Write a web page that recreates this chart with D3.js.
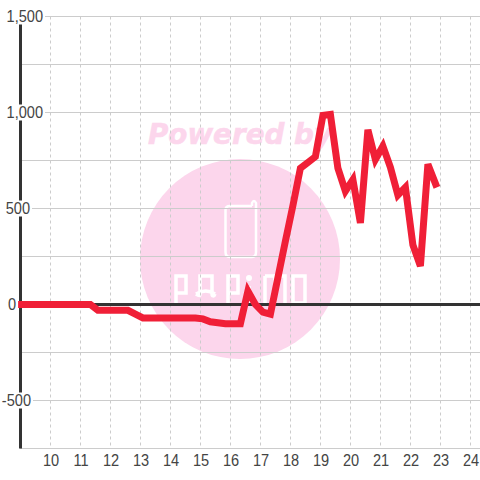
<!DOCTYPE html>
<html><head><meta charset="utf-8">
<script src="https://cdn.jsdelivr.net/npm/d3@7"></script>
<style>html,body{margin:0;padding:0;background:#fff}svg{display:block}text{font-family:"Liberation Sans",sans-serif}</style>
</head><body><svg id="c" width="480" height="480"></svg>
<script>
const hours=[8.92,9.17,9.42,9.67,9.92,10.17,10.42,10.67,10.92,11.17,11.33,11.58,11.83,12.08,12.33,12.58,12.83,13.08,13.33,13.58,13.83,14.08,14.33,14.58,14.83,15.08,15.33,15.58,15.83,16.08,16.33,16.58,16.83,17.08,17.33,17.58,17.83,18.08,18.33,18.58,18.83,19.08,19.33,19.58,19.83,20.08,20.33,20.58,20.83,21.08,21.33,21.58,21.83,22.08,22.33,22.58,22.88];
const profit=[0,0,0,0,0,0,0,0,0,0,0,-30,-30,-30,-30,-30,-50,-70,-70,-70,-70,-70,-70,-70,-70,-75,-90,-95,-100,-100,-100,70,0,-40,-50,140,330,515,710,740,770,985,990,710,590,650,425,910,755,825,715,570,610,310,200,730,610];
const xTicks=[10,11,12,13,14,15,16,17,18,19,20,21,22,23,24];
const yMajor=[1500,1000,500,0,-500];
const yMinor=[1250,750,250,-250,-750];
const svg=d3.select("#c");
const x=d3.scaleLinear().domain([9,24]).range([20.5,470.5]);
const y=d3.scaleLinear().domain([1500,-750]).range([16.5,448.5]);
const fmt=d3.format(",");
const pink="#fcd6ec";
// watermark
const wm=svg.append("g");
wm.append("text").attr("x",240).attr("y",144).attr("text-anchor","middle").attr("fill",pink).attr("stroke",pink).attr("stroke-width",0.6)
 .attr("font-size",29).attr("font-weight","bold").attr("font-style","italic").attr("textLength",184).attr("lengthAdjust","spacingAndGlyphs").style("font-family","'DejaVu Sans'").text("Powered by");
wm.append("circle").attr("cx",240).attr("cy",259).attr("r",100).attr("fill",pink);
const phone=d3.path();phone.moveTo(252,206);phone.lineTo(230,206);phone.quadraticCurveTo(225.5,206,225.5,210);phone.lineTo(225.5,252);phone.quadraticCurveTo(225.5,257,230,257);phone.lineTo(252,257);phone.quadraticCurveTo(256,257,256,252);phone.lineTo(256,203);phone.quadraticCurveTo(254,199,252,203);phone.lineTo(252,206);
wm.append("path").attr("d",phone.toString()).attr("fill","none").attr("stroke","#fff").attr("stroke-width",2.5);
const logo=["M176 303V276H186V293H176","M196 294C199 296 200 296 200 294V276H212V294C212 296 214 297 215 294M196 294Q206 288 215 294","M228 303V276H238V293H228","M249 286V303","M265 276V303M265 276H275V303M275 276H285V303","M293 276H305V303H293Z"];
wm.append("g").selectAll("path").data(logo).join("path").attr("d",d=>d).attr("fill","none").attr("stroke","#fff").attr("stroke-width",3.5);
wm.append("circle").attr("cx",249).attr("cy",278).attr("r",3).attr("fill","#fff");
// grid
const g=svg.append("g");
const gridY=[...yMajor,...yMinor];
g.selectAll("line.h").data(gridY).join("line").attr("class","h")
 .attr("x1",20).attr("x2",480).attr("y1",d=>y(d)).attr("y2",d=>y(d)).attr("stroke","#ccc").attr("stroke-width",1);
g.selectAll("line.v").data(xTicks).join("line").attr("class","v")
 .attr("x1",d=>x(d)).attr("x2",d=>x(d)).attr("y1",y(1500)).attr("y2",y(-750))
 .attr("stroke","#ccc").attr("stroke-width",1).attr("stroke-dasharray","3,3");
// axes
svg.append("line").attr("x1",20.5).attr("x2",20.5).attr("y1",y(1500)).attr("y2",y(-750)).attr("stroke","#333").attr("stroke-width",3);
svg.append("line").attr("x1",20).attr("x2",480).attr("y1",y(0)).attr("y2",y(0)).attr("stroke","#333").attr("stroke-width",3);
// labels
const labelRight={"1500":43,"1000":43,"500":30,"0":16,"-500":31};
const lab=svg.append("g");
yMajor.forEach(d=>{
 const t=lab.append("text").attr("x",labelRight[d]).attr("y",y(d)+5.5).attr("text-anchor","end").attr("font-size",16).attr("fill","#444").text(fmt(d).replace("−","-"));
 t.attr("textLength",t.node().getComputedTextLength()*0.91).attr("lengthAdjust","spacingAndGlyphs");
 const b=t.node().getBBox();
 lab.insert("rect","text").attr("x",labelRight[d]-b.width-1).attr("y",y(d)-8).attr("width",b.width+3).attr("height",16).attr("fill","#fff");
});
const xt=svg.append("g").selectAll("text").data(xTicks).join("text").attr("x",d=>x(d)+0.5).attr("y",466).attr("text-anchor","middle").attr("font-size",16).attr("fill","#444").text(d=>d);
xt.attr("textLength",function(){return this.getComputedTextLength()*0.91}).attr("lengthAdjust","spacingAndGlyphs");
// series
const line=d3.line().x((d,i)=>x(hours[i])).y(d=>y(d));
svg.append("path").datum(profit).attr("d",line).attr("fill","none").attr("stroke","#f01f37").attr("stroke-width",7).attr("stroke-linejoin","miter");
</script></body></html>
